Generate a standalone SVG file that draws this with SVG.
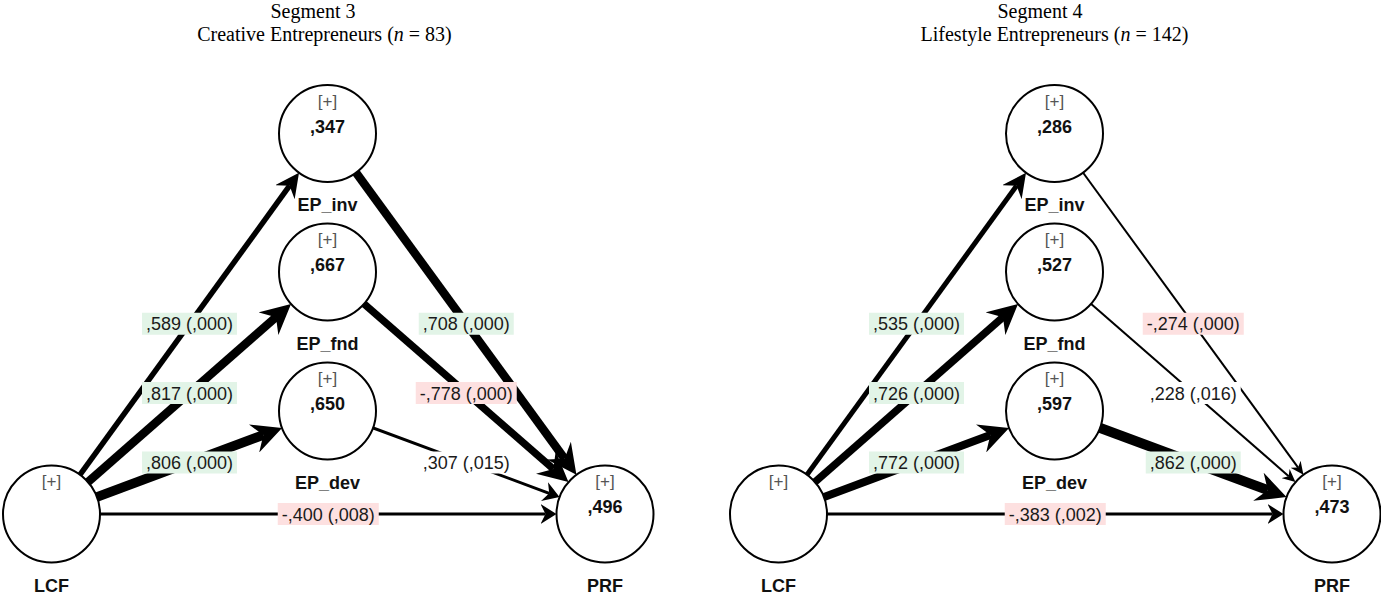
<svg xmlns="http://www.w3.org/2000/svg" width="1381" height="595" viewBox="0 0 1381 595">
<style>
.title{font-family:"Liberation Serif","Times New Roman",serif;font-size:20px;fill:#000;text-anchor:middle}
.node circle{fill:#fff;stroke:#000;stroke-width:2}
.plus{font-family:"Liberation Sans",Arial,sans-serif;font-size:17px;fill:#555;text-anchor:middle}
.val{font-family:"Liberation Sans",Arial,sans-serif;font-size:18px;font-weight:bold;fill:#111;text-anchor:middle}
.name{font-family:"Liberation Sans",Arial,sans-serif;font-size:18px;font-weight:bold;fill:#111;text-anchor:middle}
.edge{fill:none;stroke:#000;stroke-linecap:butt}
.lbl{font-family:"Liberation Sans",Arial,sans-serif;font-size:18px;fill:#1a1a1a;text-anchor:middle}
.pos{fill:#e2f4e7}
.neg{fill:#fde0e0}
.neu{fill:#fff}
</style>
<defs>
<marker id="ah-s" viewBox="-13 -6 13 12" markerWidth="13" markerHeight="12" refX="-9" refY="0" orient="auto" markerUnits="userSpaceOnUse"><path d="M0,0 L-13,-6 L-9,0 L-13,6 Z" fill="#000"/></marker>
<marker id="ah-m" viewBox="-16 -10 16 20" markerWidth="16" markerHeight="20" refX="-11" refY="0" orient="auto" markerUnits="userSpaceOnUse"><path d="M0,0 L-16,-10 L-11,0 L-16,10 Z" fill="#000"/></marker>
<marker id="ah-l" viewBox="-24 -12 24 24" markerWidth="24" markerHeight="24" refX="-16" refY="0" orient="auto" markerUnits="userSpaceOnUse"><path d="M0,0 L-24,-12 L-16,0 L-24,12 Z" fill="#000"/></marker>
<marker id="ah-xl" viewBox="-30 -15 30 30" markerWidth="30" markerHeight="30" refX="-20" refY="0" orient="auto" markerUnits="userSpaceOnUse"><path d="M0,0 L-30,-15 L-20,0 L-30,15 Z" fill="#000"/></marker>
</defs>

<g id="titles">
<text class="title" x="313" y="18">Segment 3</text>
<text class="title" x="324.5" y="40.5">Creative Entrepreneurs (<tspan font-style="italic">n</tspan> = 83)</text>
<text class="title" x="1040" y="18">Segment 4</text>
<text class="title" x="1054.5" y="40.5">Lifestyle Entrepreneurs (<tspan font-style="italic">n</tspan> = 142)</text>
</g>

<g id="connectors">
<path class="edge" d="M51.5,514 L289.62,185.71" stroke-width="5.5" marker-end="url(#ah-l)"/>
<path class="edge" d="M51.5,514 L275.99,317.17" stroke-width="8.5" marker-end="url(#ah-xl)"/>
<path class="edge" d="M51.5,514 L263.32,434.95" stroke-width="9.5" marker-end="url(#ah-xl)"/>
<path class="edge" d="M51.5,514 L545.5,514" stroke-width="3" marker-end="url(#ah-m)"/>
<path class="edge" d="M327.5,133.5 L564.64,458.65" stroke-width="8.5" marker-end="url(#ah-xl)"/>
<path class="edge" d="M327.5,272 L553.38,468.97" stroke-width="7.5" marker-end="url(#ah-xl)"/>
<path class="edge" d="M327.5,411 L549.22,493.29" stroke-width="3" marker-end="url(#ah-m)"/>

<path class="edge" d="M778.5,514 L1016.62,185.71" stroke-width="5" marker-end="url(#ah-l)"/>
<path class="edge" d="M778.5,514 L1002.99,317.17" stroke-width="7.5" marker-end="url(#ah-xl)"/>
<path class="edge" d="M778.5,514 L990.32,434.95" stroke-width="8" marker-end="url(#ah-xl)"/>
<path class="edge" d="M778.5,514 L1272.5,514" stroke-width="3" marker-end="url(#ah-m)"/>
<path class="edge" d="M1054.5,133.5 L1298.12,467.54" stroke-width="2" marker-end="url(#ah-s)"/>
<path class="edge" d="M1054.5,272 L1288.67,476.2" stroke-width="2" marker-end="url(#ah-s)"/>
<path class="edge" d="M1054.5,411 L1267.78,490.16" stroke-width="10" marker-end="url(#ah-xl)"/>

<g id="labels-left">
<rect class="pos" x="142" y="312.75" width="95" height="22"/><text class="lbl" x="189.5" y="330.25">,589 (,000)</text>
<rect class="pos" x="142" y="382" width="95" height="22"/><text class="lbl" x="189.5" y="399.5">,817 (,000)</text>
<rect class="pos" x="142" y="451.5" width="95" height="22"/><text class="lbl" x="189.5" y="469">,806 (,000)</text>
<rect class="neg" x="277.75" y="503" width="101" height="22"/><text class="lbl" x="328.25" y="520.5">-,400 (,008)</text>
<rect class="pos" x="418.75" y="312.75" width="95" height="22"/><text class="lbl" x="466.25" y="330.25">,708 (,000)</text>
<rect class="neg" x="415.75" y="382" width="101" height="22"/><text class="lbl" x="466.25" y="399.5">-,778 (,000)</text>
<rect class="neu" x="418.75" y="451.5" width="95" height="22"/><text class="lbl" x="466.25" y="469">,307 (,015)</text>
</g>
<g id="labels-right">
<rect class="pos" x="869" y="312.75" width="95" height="22"/><text class="lbl" x="916.5" y="330.25">,535 (,000)</text>
<rect class="pos" x="869" y="382" width="95" height="22"/><text class="lbl" x="916.5" y="399.5">,726 (,000)</text>
<rect class="pos" x="869" y="451.5" width="95" height="22"/><text class="lbl" x="916.5" y="469">,772 (,000)</text>
<rect class="neg" x="1004.75" y="503" width="101" height="22"/><text class="lbl" x="1055.25" y="520.5">-,383 (,002)</text>
<rect class="neg" x="1142.75" y="312.75" width="101" height="22"/><text class="lbl" x="1193.25" y="330.25">-,274 (,000)</text>
<rect class="neu" x="1145.75" y="382" width="95" height="22"/><text class="lbl" x="1193.25" y="399.5">,228 (,016)</text>
<rect class="pos" x="1145.75" y="451.5" width="95" height="22"/><text class="lbl" x="1193.25" y="469">,862 (,000)</text>
</g>
</g>

<g id="s3-LCF" class="node"><circle cx="51.5" cy="514" r="48.5"/><text class="plus" x="51.5" y="487">[+]</text><text class="name" x="51.5" y="592">LCF</text></g>
<g id="s3-EP_inv" class="node"><circle cx="327.5" cy="133.5" r="48.5"/><text class="plus" x="327.5" y="106.5">[+]</text><text class="val" x="327.5" y="132.5">,347</text><text class="name" x="327.5" y="211">EP_inv</text></g>
<g id="s3-EP_fnd" class="node"><circle cx="327.5" cy="272" r="48.5"/><text class="plus" x="327.5" y="245">[+]</text><text class="val" x="327.5" y="271">,667</text><text class="name" x="327.5" y="350">EP_fnd</text></g>
<g id="s3-EP_dev" class="node"><circle cx="327.5" cy="411" r="48.5"/><text class="plus" x="327.5" y="384">[+]</text><text class="val" x="327.5" y="410">,650</text><text class="name" x="327.5" y="489">EP_dev</text></g>
<g id="s3-PRF" class="node"><circle cx="605" cy="514" r="48.5"/><text class="plus" x="605" y="487">[+]</text><text class="val" x="605" y="513">,496</text><text class="name" x="605" y="592">PRF</text></g>

<g id="s4-LCF" class="node"><circle cx="778.5" cy="514" r="48.5"/><text class="plus" x="778.5" y="487">[+]</text><text class="name" x="778.5" y="592">LCF</text></g>
<g id="s4-EP_inv" class="node"><circle cx="1054.5" cy="133.5" r="48.5"/><text class="plus" x="1054.5" y="106.5">[+]</text><text class="val" x="1054.5" y="132.5">,286</text><text class="name" x="1054.5" y="211">EP_inv</text></g>
<g id="s4-EP_fnd" class="node"><circle cx="1054.5" cy="272" r="48.5"/><text class="plus" x="1054.5" y="245">[+]</text><text class="val" x="1054.5" y="271">,527</text><text class="name" x="1054.5" y="350">EP_fnd</text></g>
<g id="s4-EP_dev" class="node"><circle cx="1054.5" cy="411" r="48.5"/><text class="plus" x="1054.5" y="384">[+]</text><text class="val" x="1054.5" y="410">,597</text><text class="name" x="1054.5" y="489">EP_dev</text></g>
<g id="s4-PRF" class="node"><circle cx="1332" cy="514" r="48.5"/><text class="plus" x="1332" y="487">[+]</text><text class="val" x="1332" y="513">,473</text><text class="name" x="1332" y="592">PRF</text></g>
</svg>
